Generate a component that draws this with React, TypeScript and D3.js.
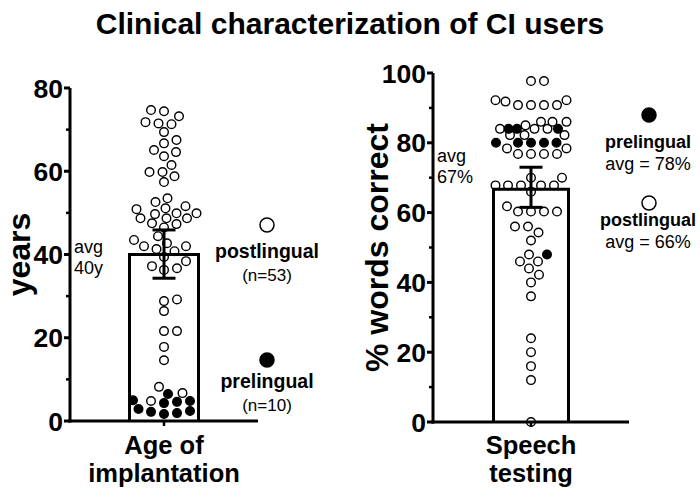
import React from "react";
import * as d3 from "d3";

const title = "Clinical characterization of CI users";
const ageCategory = ["Age of", "implantation"];
const speechCategory = ["Speech", "testing"];
const ageAxisTitle = "years";
const speechAxisTitle = "% words correct";

// Age of implantation (years)
const agePost = [
  73.2, 74.4, 74.7, 71.8, 71.3, 71.5, 69.4, 67.5, 66.7, 64.6, 65.1, 63.6, 61.5,
  59.8, 58.8, 59.8, 57.4, 53.5, 51.6, 52.6, 49.7, 50.9, 51.1, 49.9, 49.9, 48.7,
  48.7, 48.7, 47.5, 47.3, 46.5, 43.5, 44.4, 42, 42, 40.8, 42.7, 41.3, 39.4, 38.4,
  36.7, 37.2, 36.3, 29.2, 28.8, 26.4, 21.6, 21.6, 17.8, 14.6, 8.2, 6.7, 4.8,
];
const agePre = [4.3, 1.9, 4.6, 2.4, 5.0, 2.9, 6.5, 1.7, 4.8, 2.2];
const ageMean = 40;
const ageErr = [34.3, 45.9];
const ageTicks = [0, 20, 40, 60, 80];
const ageMinor = [10, 30, 50, 70];

// Speech testing (% words correct)
const speechPost = [
  97.7, 97.7, 92.2, 90.8, 90.8, 92.2, 90.8, 90.8, 91.8, 86, 86, 86, 84, 84, 84,
  85, 82.2, 82.2, 82.2, 78.4, 78.4, 76.8, 76.8, 76.8, 76.8, 67.8, 67.8, 67.8,
  67.8, 67.8, 70, 70, 66, 60.3, 60.3, 60.3, 60.3, 61.8, 56, 56, 54.3, 52, 46, 44,
  46, 48, 42.2, 40, 36, 24, 20, 16, 12, 0,
];
const speechPre = [84, 84, 84, 80, 80, 80, 80, 80, 48];
const speechMean = 66.7;
const speechErr = [61.5, 73];
const speechTicks = [0, 20, 40, 60, 80, 100];
const speechMinor = [10, 30, 50, 70, 90];

const FONT = "'Liberation Sans', Arial, Helvetica, sans-serif";
const R = 4.3;

type Pt = { v: number; pre: boolean; y: number; dx: number };

function swarm(post: number[], pre: number[], y: (v: number) => number, maxDx: number): Pt[] {
  const pts: Pt[] = [
    ...post.map((v) => ({ v, pre: false, y: y(v), dx: 0 })),
    ...pre.map((v) => ({ v, pre: true, y: y(v), dx: 0 })),
  ].sort((a, b) => b.y - a.y);
  const DX = 13;
  const DY = 9.6;
  const placed: Pt[] = [];
  for (const p of pts) {
    let chosen = 0;
    let best = Infinity;
    for (let k = 0; k < 400; k++) {
      const cands = k === 0 ? [0] : [k * 0.5, -k * 0.5];
      let found = false;
      for (const c of cands) {
        if (Math.abs(c) > maxDx) continue;
        const ok = placed.every((q) => {
          const ddx = (q.dx - c) / DX;
          const ddy = (q.y - p.y) / DY;
          return ddx * ddx + ddy * ddy >= 1;
        });
        if (ok) {
          chosen = c;
          found = true;
          break;
        }
      }
      if (found) break;
      if (k * 0.5 > maxDx) {
        for (let c = -maxDx; c <= maxDx; c += 0.5) {
          let m = Infinity;
          for (const q of placed) {
            const ddx = (q.dx - c) / DX;
            const ddy = (q.y - p.y) / DY;
            m = Math.min(m, ddx * ddx + ddy * ddy);
          }
          if (-m < best) {
            best = -m;
            chosen = c;
          }
        }
        break;
      }
    }
    p.dx = chosen;
    placed.push(p);
  }
  return pts;
}

type PanelProps = {
  axisX: number;
  axisEnd: number;
  y: d3.ScaleLinear<number, number>;
  ticks: number[];
  minor: number[];
  post: number[];
  pre: number[];
  mean: number;
  err: number[];
  barHalf: number;
  category: string[];
  axisTitle: string;
  axisTitleX: number;
};

function Panel(p: PanelProps) {
  const x = d3.scalePoint<string>().domain([p.category.join(" ")]).range([p.axisX, p.axisEnd]).padding(0.5);
  const cx = x(p.category.join(" "))!;
  const y0 = p.y(0);
  const pts = swarm(p.post, p.pre, p.y, p.barHalf - 2);
  const [d0, d1] = p.y.domain();
  const capHalf = 11.5;
  return (
    <g>
      <rect x={cx - p.barHalf} y={p.y(p.mean)} width={p.barHalf * 2} height={y0 - p.y(p.mean)} fill="#fff" />
      {pts.map((d, i) => (
        <circle key={i} cx={cx + d.dx} cy={d.y} r={R} fill={d.pre ? "#000" : "#fff"} stroke="#000" strokeWidth={1.4} />
      ))}
      <path
        d={`M${cx - p.barHalf},${y0}V${p.y(p.mean)}H${cx + p.barHalf}V${y0}`}
        fill="none"
        stroke="#000"
        strokeWidth={3}
      />
      <g stroke="#000" strokeWidth={3}>
        <line x1={cx} x2={cx} y1={p.y(p.err[0])} y2={p.y(p.err[1])} />
        <line x1={cx - capHalf} x2={cx + capHalf} y1={p.y(p.err[1])} y2={p.y(p.err[1])} />
        <line x1={cx - capHalf} x2={cx + capHalf} y1={p.y(p.err[0])} y2={p.y(p.err[0])} />
      </g>
      <line x1={p.axisX} x2={p.axisX} y1={p.y(d1)} y2={y0 + 1.5} stroke="#000" strokeWidth={3} />
      {p.ticks.map((t) => (
        <g key={t}>
          <line x1={p.axisX - 6} x2={p.axisX} y1={p.y(t)} y2={p.y(t)} stroke="#000" strokeWidth={3} />
          <text x={p.axisX - 7} y={p.y(t)} dy="0.36em" textAnchor="end" fontFamily={FONT} fontWeight="bold" fontSize={26.5}>
            {t}
          </text>
        </g>
      ))}
      {p.minor.map((t) => (
        <line key={t} x1={p.axisX - 4} x2={p.axisX} y1={p.y(t)} y2={p.y(t)} stroke="#000" strokeWidth={2.5} />
      ))}
      <line x1={p.axisX - 1.5} x2={p.axisEnd} y1={y0} y2={y0} stroke="#000" strokeWidth={3} />
      <line x1={cx} x2={cx} y1={y0} y2={y0 + 5} stroke="#000" strokeWidth={2.5} />
      {p.category.map((c, i) => (
        <text key={c} x={cx} y={454 + i * 28} textAnchor="middle" fontFamily={FONT} fontWeight="bold" fontSize={25.5}>
          {c}
        </text>
      ))}
      <text
        transform={`translate(${p.axisTitleX},${(p.y(d0) + p.y(d1)) / 2}) rotate(-90)`}
        textAnchor="middle"
        fontFamily={FONT}
        fontWeight="bold"
        fontSize={32}
      >
        {p.axisTitle}
      </text>
    </g>
  );
}

export default function App() {
  const yL = d3.scaleLinear().domain([0, 80]).range([421, 88]);
  const yR = d3.scaleLinear().domain([0, 100]).range([422, 73]);
  return (
    <svg width={700} height={498} style={{ position: "absolute", left: 0, top: 0, background: "#fff" }}>
      <rect width={700} height={498} fill="#fff" />
      <text x={350} y={34} textAnchor="middle" fontFamily={FONT} fontWeight="bold" fontSize={30}>
        {title}
      </text>
      <Panel
        axisX={70}
        axisEnd={258}
        y={yL}
        ticks={ageTicks}
        minor={ageMinor}
        post={agePost}
        pre={agePre}
        mean={ageMean}
        err={ageErr}
        barHalf={34.5}
        category={ageCategory}
        axisTitle={ageAxisTitle}
        axisTitleX={30}
      />
      <Panel
        axisX={433}
        axisEnd={629}
        y={yR}
        ticks={speechTicks}
        minor={speechMinor}
        post={speechPost}
        pre={speechPre}
        mean={speechMean}
        err={speechErr}
        barHalf={37.5}
        category={speechCategory}
        axisTitle={speechAxisTitle}
        axisTitleX={388}
      />
      <g fontFamily={FONT} fontSize={18}>
        <text x={74} y={253}>avg</text>
        <text x={74} y={274}>40y</text>
        <text x={437} y={162}>avg</text>
        <text x={437} y={183}>67%</text>
      </g>
      <g fontFamily={FONT} textAnchor="middle">
        <circle cx={267} cy={225} r={7} fill="#fff" stroke="#000" strokeWidth={1.5} />
        <text x={267} y={258} fontWeight="bold" fontSize={19.5}>postlingual</text>
        <text x={267} y={281} fontSize={17}>(n=53)</text>
        <circle cx={267} cy={360} r={7} fill="#000" stroke="#000" strokeWidth={1.5} />
        <text x={267} y={388} fontWeight="bold" fontSize={19.5}>prelingual</text>
        <text x={267} y={411} fontSize={17}>(n=10)</text>

        <circle cx={649} cy={115} r={7} fill="#000" stroke="#000" strokeWidth={1.5} />
        <text x={648} y={148} fontWeight="bold" fontSize={18}>prelingual</text>
        <text x={648} y={170} fontSize={18}>avg = 78%</text>
        <circle cx={649} cy={203} r={7} fill="#fff" stroke="#000" strokeWidth={1.5} />
        <text x={648} y={226} fontWeight="bold" fontSize={18}>postlingual</text>
        <text x={648} y={248} fontSize={18}>avg = 66%</text>
      </g>
    </svg>
  );
}
